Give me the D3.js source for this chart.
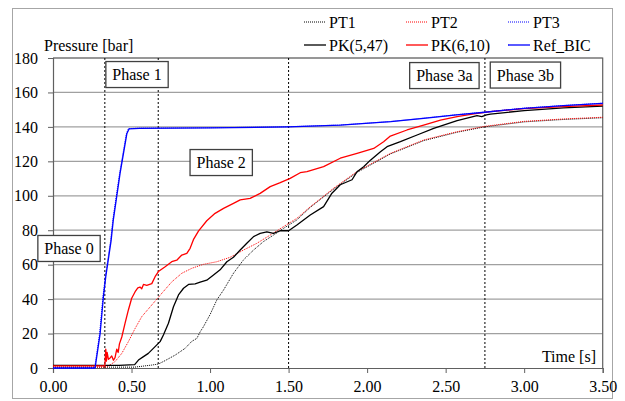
<!DOCTYPE html>
<html><head><meta charset="utf-8">
<script src="https://cdn.jsdelivr.net/npm/d3@7"></script>
<style>
html,body{margin:0;padding:0;background:#fff;}
svg{display:block;}
</style>
</head><body>
<svg id="chart" width="625" height="401"></svg>
<script>
// ---- data ----
const xTicks = [0, 0.5, 1.0, 1.5, 2.0, 2.5, 3.0, 3.5];
const yTicks = [0, 20, 40, 60, 80, 100, 120, 140, 160, 180];
const phaseLines = [0.33, 0.67, 1.5, 2.75];
const phaseLabels = ["Phase 0", "Phase 1", "Phase 2", "Phase 3a", "Phase 3b"];
const phaseT = [0.102, 0.535, 1.071, 2.492, 3.008];
const phaseV = [69.4, 170.4, 119.3, 169.8, 170.1];

const seriesNames = ["PT1", "PT2", "PT3", "PK(5,47)", "PK(6,10)", "Ref_BIC"];

const pt1T = [0, 0.52, 0.629, 0.671, 0.714, 0.778, 0.841, 0.884, 0.916, 0.937, 0.958, 1.0, 1.043, 1.086, 1.149, 1.213, 1.277, 1.34, 1.404, 1.468, 1.553, 1.638, 1.787, 1.936, 2.148, 2.36, 2.573, 2.747, 3.0, 3.25, 3.5];
const pt1V = [0.5, 0.5, 1.7, 2.3, 4.3, 7.5, 11.4, 15.5, 17.2, 21, 24, 31, 39.5, 45.3, 55, 62.8, 68.5, 73.4, 77.2, 81.1, 86, 93.3, 103.9, 113.6, 124.3, 132, 136.9, 140, 142.9, 144.3, 145.3];

const pt2T = [0, 0.34, 0.395, 0.438, 0.48, 0.523, 0.565, 0.629, 0.693, 0.756, 0.82, 0.884, 0.958, 1.043, 1.128, 1.213, 1.298, 1.383, 1.468, 1.553, 1.638, 1.787, 1.936, 2.148, 2.36, 2.573, 2.747, 3.0, 3.25, 3.5];
const pt2V = [0.5, 0.5, 3.7, 8.5, 15.3, 23, 29.8, 36.6, 43.4, 50, 55, 57.9, 60.2, 61.7, 64.3, 68.5, 72.4, 77.2, 82.1, 86.9, 93.6, 104.4, 114.1, 124.6, 132.4, 137.2, 140.3, 143.2, 144.6, 145.6];

const pt3T = [0, 0.265, 0.297, 0.318, 0.333, 0.367, 0.381, 0.424, 0.467, 0.48, 0.55, 1.0, 1.5, 1.83, 2.15, 2.36, 2.57, 2.75, 3.0, 3.25, 3.5];
const pt3V = [0, 0, 20, 41.4, 53, 74, 86, 113, 136, 139, 139.3, 139.5, 140.1, 141.1, 143.1, 145.1, 147.1, 148.6, 150.9, 152.4, 153.8];

const pk547T = [0, 0.42, 0.52, 0.544, 0.576, 0.607, 0.65, 0.682, 0.703, 0.735, 0.767, 0.799, 0.831, 0.863, 0.905, 0.937, 0.979, 1.022, 1.064, 1.107, 1.149, 1.192, 1.234, 1.277, 1.319, 1.362, 1.404, 1.447, 1.5, 1.553, 1.638, 1.723, 1.776, 1.829, 1.904, 1.936, 1.978, 2.021, 2.085, 2.127, 2.212, 2.318, 2.424, 2.573, 2.7, 2.73, 2.76, 2.785, 3.0, 3.25, 3.5];
const pk547V = [1.5, 1.5, 2, 4.6, 6.6, 8.5, 12.4, 15.3, 19.2, 26, 35.6, 42.4, 46.3, 48.5, 48.8, 49.8, 51, 54, 57, 61.7, 64.3, 68.5, 72.4, 76.3, 78.2, 79.1, 78.2, 79.7, 79.7, 83, 88.8, 93.7, 101.5, 106.4, 109.3, 114, 116.9, 120.7, 125.6, 128.5, 131.4, 135.3, 139.1, 143.6, 146.5, 146, 147, 147.4, 149.5, 151, 152];

const pk610T = [0, 0.33, 0.336, 0.34, 0.345, 0.353, 0.365, 0.374, 0.385, 0.395, 0.406, 0.415, 0.423, 0.438, 0.459, 0.48, 0.501, 0.523, 0.54, 0.554, 0.565, 0.576, 0.597, 0.629, 0.65, 0.671, 0.714, 0.756, 0.788, 0.82, 0.852, 0.873, 0.894, 0.926, 0.979, 1.032, 1.086, 1.149, 1.192, 1.255, 1.319, 1.383, 1.447, 1.51, 1.574, 1.617, 1.723, 1.829, 1.936, 2.042, 2.105, 2.148, 2.254, 2.36, 2.467, 2.573, 2.68, 2.785, 3.0, 3.25, 3.5];
const pk610V = [1.2, 1.2, 11, 4, 9, 5, 6, 7, 4.5, 6, 11, 9, 14, 18, 26, 33.7, 40.5, 44.3, 46.5, 47, 46, 48.5, 48, 49, 53, 56, 58.8, 61.7, 62.6, 65.6, 66.5, 69.5, 74.5, 79.5, 85.5, 89.8, 92.7, 95.6, 97.6, 98.5, 101.4, 105.3, 107.6, 110.1, 113.4, 114, 116.9, 121.8, 124.6, 127.5, 131.4, 134.7, 138.2, 141, 143.9, 145.9, 147.5, 148.9, 150.6, 151.8, 152.7];

const refT = [0, 0.268, 0.30, 0.321, 0.336, 0.37, 0.384, 0.427, 0.47, 0.484, 0.55, 1.0, 1.5, 1.83, 2.15, 2.36, 2.57, 2.75, 3.0, 3.25, 3.5];
const refV = [0, 0, 20, 41.4, 53, 74, 86, 113, 136, 138.8, 139.1, 139.4, 140, 141, 143, 145, 147, 148.5, 150.8, 152.3, 153.6];

const seriesT = [pt1T, pt2T, pt3T, pk547T, pk610T, refT];
const seriesV = [pt1V, pt2V, pt3V, pk547V, pk610V, refV];
const seriesColor = ["#000000", "#ff0000", "#0000ff", "#000000", "#ff0000", "#0000ff"];
const seriesDotted = [true, true, true, false, false, false];

// ---- layout ----
const FONT = '"Liberation Serif", "Times New Roman", serif';
const svg = d3.select("#chart");
const L = 53, R = 602.7, T = 58, B = 368;
const x = d3.scaleLinear().domain([0, 3.5]).range([L, R]);
const y = d3.scaleLinear().domain([0, 180]).range([B, T]);

// outer chart border
svg.append("rect").attr("x", 12.5).attr("y", 8.5).attr("width", 600).attr("height", 390)
  .attr("fill", "#fff").attr("stroke", "#a6a6a6").attr("stroke-width", 1);

// gridlines
svg.append("g").selectAll("line").data(yTicks.filter(d => d > 0)).join("line")
  .attr("x1", L).attr("x2", R).attr("y1", d => y(d)).attr("y2", d => y(d))
  .attr("stroke", "#a0a0a0").attr("stroke-width", 1.2);

// plot border top/right
svg.append("path").attr("d", `M${L},${T}H${R}V${B}`).attr("fill", "none")
  .attr("stroke", "#606060").attr("stroke-width", 1.2);

// phase separator lines
svg.append("g").selectAll("line").data(phaseLines).join("line")
  .attr("x1", d => x(d)).attr("x2", d => x(d)).attr("y1", T).attr("y2", B)
  .attr("stroke", "#000").attr("stroke-width", 1).attr("stroke-dasharray", "2,2");

// axes
const xAxis = d3.axisBottom(x).tickValues(xTicks).tickFormat(d3.format(".2f")).tickSize(5).tickPadding(8);
const gx = svg.append("g").attr("transform", `translate(0,${B})`).call(xAxis);
const yAxis = d3.axisLeft(y).tickValues(yTicks).tickFormat(d3.format("d")).tickSize(5).tickPadding(10);
const gy = svg.append("g").attr("transform", `translate(${L},0)`).call(yAxis);
[gx, gy].forEach(g => {
  g.attr("font-size", null).attr("font-family", null);
  g.select(".domain").attr("stroke", "#606060").attr("stroke-width", 1.2);
  g.selectAll(".tick line").attr("stroke", "#606060");
  g.selectAll(".tick text").attr("fill", "#000")
    .style("font-family", FONT).style("font-size", "16px");
});

// series
const line = d3.line().x(d => x(d[0])).y(d => y(d[1]));
seriesNames.forEach((name, i) => {
  const pts = seriesT[i].map((t, j) => [t, seriesV[i][j]]);
  svg.append("path").datum(pts).attr("d", line).attr("fill", "none")
    .attr("stroke", seriesColor[i])
    .attr("stroke-width", seriesDotted[i] ? 1 : 1.3)
    .attr("stroke-dasharray", seriesDotted[i] ? "1,1" : null)
    .attr("stroke-linejoin", "round");
});

// axis titles
svg.append("text").attr("x", 44).attr("y", 51).style("font-family", FONT).style("font-size", "16px").text("Pressure [bar]");
svg.append("text").attr("x", 596).attr("y", 362).style("font-family", FONT).style("font-size", "16px").attr("text-anchor", "end").text("Time [s]");

// phase label boxes
phaseLabels.forEach((lab, i) => {
  const g = svg.append("g");
  const t = g.append("text").attr("x", x(phaseT[i])).attr("y", y(phaseV[i]))
    .style("font-family", FONT).style("font-size", "16px").attr("text-anchor", "middle").attr("dy", "0.35em").text(lab);
  const bb = t.node().getBBox();
  g.insert("rect", "text").attr("x", bb.x - 6.5).attr("y", y(phaseV[i]) - 13)
    .attr("width", bb.width + 13).attr("height", 26)
    .attr("fill", "#fff").attr("stroke", "#404040").attr("stroke-width", 1.3);
});

// legend
const legX = [304, 406, 508];
const legY = [22, 45];
seriesNames.forEach((name, i) => {
  const cx = legX[i % 3], cy = legY[Math.floor(i / 3)];
  svg.append("line").attr("x1", cx).attr("x2", cx + 22).attr("y1", cy).attr("y2", cy)
    .attr("stroke", seriesColor[i]).attr("stroke-width", seriesDotted[i] ? 1 : 1.3)
    .attr("stroke-dasharray", seriesDotted[i] ? "1,1" : null);
  svg.append("text").attr("x", cx + 25).attr("y", cy).attr("dy", "0.35em")
    .style("font-family", FONT).style("font-size", "16px").text(name);
});
</script>
</body></html>
